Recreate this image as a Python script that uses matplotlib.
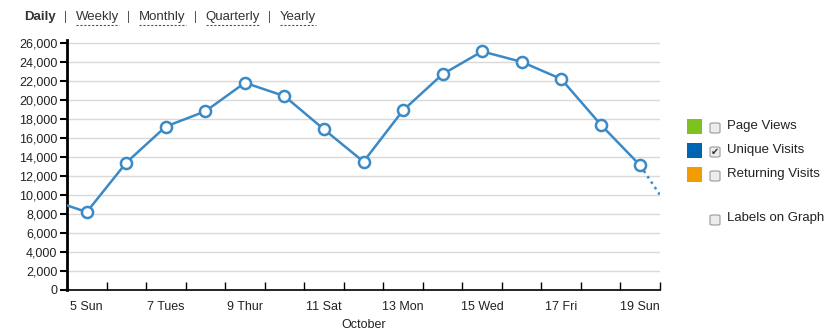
import matplotlib
matplotlib.use("Agg")
import matplotlib.pyplot as plt
from matplotlib.patches import Rectangle, FancyBboxPatch
from matplotlib.lines import Line2D
from matplotlib.ticker import FuncFormatter, FixedLocator

# unique visits per day, October
days = [4, 5, 6, 7, 8, 9, 10, 11, 12, 13, 14, 15, 16, 17, 18, 19]
visits = [9600, 8200, 13400, 17200, 18800, 21800, 20400, 16900,
          13500, 18900, 22700, 25100, 24000, 22200, 17400, 13100]
# projected value for the next day (drawn dotted)
proj_days = [19, 20]
proj_visits = [13100, 6900]

label_days = [5, 7, 9, 11, 13, 15, 17, 19]
day_labels = ["5 Sun", "7 Tues", "9 Thur", "11 Sat", "13 Mon", "15 Wed", "17 Fri", "19 Sun"]

periods = ["Daily", "Weekly", "Monthly", "Quarterly", "Yearly"]
series_names = ["Page Views", "Unique Visits", "Returning Visits"]
series_colors = ["#7dc21e", "#0066b3", "#f29c00"]
series_checked = [False, True, False]

line_color = "#3b8ac6"
text_color = "#222222"
plt.rcParams["font.family"] = ["Liberation Sans", "DejaVu Sans"]

fig = plt.figure(figsize=(8.3, 3.35), dpi=100)
W, H = 830, 335
ax = fig.add_axes([67 / W, 1 - 290 / H, (660 - 67) / W, (290 - 40) / H])

# dotted projection first so the last real point's marker sits on top
ax.plot(proj_days, proj_visits, color=line_color, lw=1.8, ls=(0, (1, 1.6)), zorder=2)
ax.plot(days, visits, color=line_color, lw=1.8, marker="o", ms=8,
        mfc="white", mec=line_color, mew=1.8, zorder=3)

ax.set_xlim(4.5, 19.5)
ax.set_ylim(0, 26300)
ax.set_yticks(range(0, 26001, 2000))
ax.yaxis.set_major_formatter(FuncFormatter(lambda v, p: f"{int(v):,}"))
ax.grid(axis="y", color="#d9d9d9", lw=1)
ax.set_axisbelow(True)

# tick marks between days, labels on every other day
ax.xaxis.set_major_locator(FixedLocator([d + 0.5 for d in range(4, 20)]))
ax.xaxis.set_major_formatter(FuncFormatter(lambda v, p: ""))
ax.xaxis.set_minor_locator(FixedLocator(label_days))
ax.set_xticklabels(day_labels, minor=True)
ax.tick_params(axis="x", which="minor", length=0, pad=8, labelsize=9, labelcolor=text_color)
ax.tick_params(axis="x", which="major", length=6, width=1, color="black", direction="in")
ax.tick_params(axis="y", length=5, width=1.5, color="black", labelsize=9, labelcolor=text_color, pad=2)
ax.set_xlabel("October", fontsize=9, color=text_color, labelpad=4)

for s in ["top", "right"]:
    ax.spines[s].set_visible(False)
ax.spines["left"].set_linewidth(2)
ax.spines["bottom"].set_linewidth(1.2)

# period links across the top
renderer = fig.canvas.get_renderer()
x = 24
for i, p in enumerate(periods):
    t = fig.text(x / W, 1 - 17 / H, p, fontsize=9.5, color="#333333",
                 weight="bold" if i == 0 else "normal", va="center", ha="left")
    w = t.get_window_extent(renderer).width
    if i > 0:
        fig.add_artist(Line2D([x / W, (x + w) / W], [1 - 25 / H, 1 - 25 / H],
                              color="#555555", lw=0.8, ls=(0, (2, 1.5))))
    x += w
    if i < len(periods) - 1:
        fig.text((x + 10) / W, 1 - 17 / H, "|", fontsize=8.5, color="#555555",
                 va="center", ha="center")
        x += 20


def checkbox(xc, yc, checked):
    fig.add_artist(FancyBboxPatch(((xc - 5) / W, 1 - (yc + 5) / H), 10 / W, 10 / H,
                                  boxstyle="round,pad=0,rounding_size=0.003",
                                  transform=fig.transFigure, facecolor="#ececec",
                                  edgecolor="#9a9a9a", lw=0.8))
    if checked:
        fig.text(xc / W, 1 - yc / H, "\u2714", fontsize=7, color="#333333",
                 ha="center", va="center", family="DejaVu Sans")


# legend with toggle boxes
for i, (name, c, chk) in enumerate(zip(series_names, series_colors, series_checked)):
    yc = 126 + 24 * i
    fig.add_artist(Rectangle((687 / W, 1 - (yc + 7.5) / H), 15 / W, 15 / H,
                             transform=fig.transFigure, facecolor=c, edgecolor="none"))
    checkbox(715, yc + 2, chk)
    fig.text(727 / W, 1 - yc / H, name, fontsize=9.5, color=text_color, va="center")

checkbox(715, 220, False)
fig.text(727 / W, 1 - 218 / H, "Labels on Graph", fontsize=9.5, color=text_color, va="center")

fig.savefig("out.png", dpi=100, facecolor="white")
